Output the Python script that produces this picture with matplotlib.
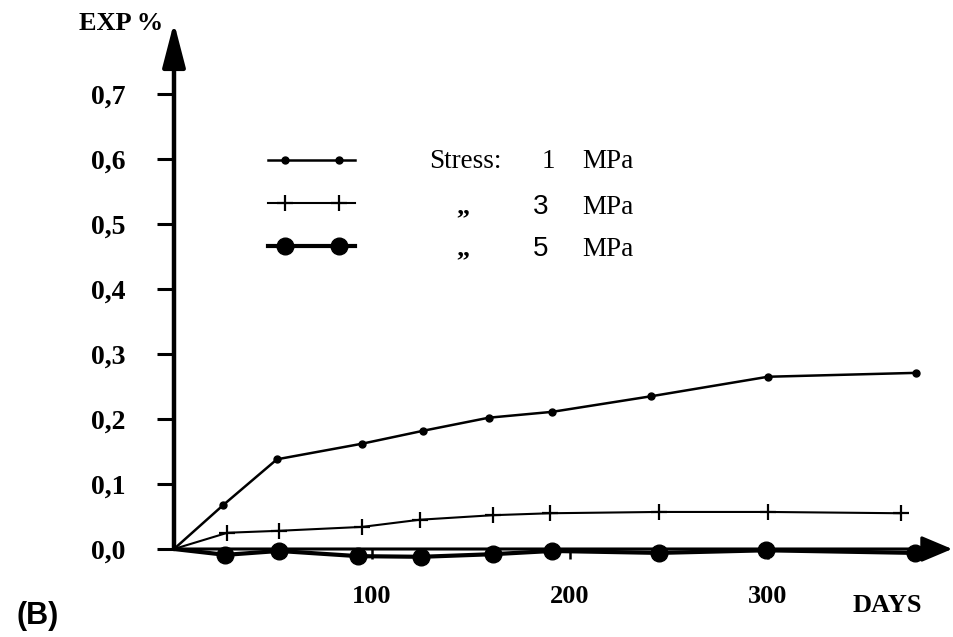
import matplotlib
matplotlib.use("Agg")
import matplotlib.pyplot as plt
from matplotlib.lines import Line2D
from matplotlib.legend_handler import HandlerLine2D

# data (days, expansion %)
days_1mpa = [0, 25, 52, 95, 126, 159, 191, 241, 300, 375]
exp_1mpa = [0, 0.068, 0.138, 0.162, 0.182, 0.202, 0.211, 0.235, 0.265, 0.271]

days_3mpa = [0, 27, 53, 95, 124, 161, 190, 245, 300, 367]
exp_3mpa = [0, 0.025, 0.028, 0.034, 0.045, 0.052, 0.055, 0.057, 0.057, 0.055]

days_5mpa = [0, 26, 53, 93, 125, 161, 191, 245, 299, 374]
exp_5mpa = [0, -0.009, -0.003, -0.011, -0.012, -0.008, -0.003, -0.006, -0.002, -0.006]

yticks = [0.0, 0.1, 0.2, 0.3, 0.4, 0.5, 0.6, 0.7]
ytick_labels = ['0,0', '0,1', '0,2', '0,3', '0,4', '0,5', '0,6', '0,7']
xticks = [100, 200, 300]
xtick_labels = ['100', '200', '300']

W, H = 954, 637
serif = 'Liberation Serif'

fig = plt.figure(figsize=(W / 100, H / 100), dpi=100)
ax = fig.add_axes([0, 0, 1, 1])
# origin at pixel (174, 549); 1.98 px per day, 650 px per 1 %
ax.set_xlim(-174 / 1.98, (W - 174) / 1.98)
ax.set_ylim(-(H - 549) / 650, 549 / 650)

for s in ['top', 'right']:
    ax.spines[s].set_visible(False)
for s in ['left', 'bottom']:
    ax.spines[s].set_position(('data', 0))
    ax.spines[s].set_color('none')

# axes drawn as arrows
ax.annotate('', xy=(0, 0.81), xytext=(0, 0), annotation_clip=False,
            arrowprops=dict(arrowstyle='-|>,head_length=2.7,head_width=0.7',
                            mutation_scale=10, lw=3.2, color='black',
                            shrinkA=0, shrinkB=0))
ax.annotate('', xy=(393, 0), xytext=(0, 0), annotation_clip=False,
            arrowprops=dict(arrowstyle='-|>,head_length=1.9,head_width=0.8',
                            mutation_scale=10, lw=2.2, color='black',
                            shrinkA=0, shrinkB=0))

ax.set_yticks(yticks)
ax.set_yticklabels(ytick_labels, fontfamily=serif, fontweight='bold', fontsize=20)
ax.set_xticks(xticks)
ax.set_xticklabels(xtick_labels, fontfamily=serif, fontweight='bold', fontsize=19)
ax.tick_params(axis='y', direction='out', length=12, width=2.2, pad=23)
ax.tick_params(axis='x', direction='out', length=7, width=1.8, pad=19)

# series
l1, = ax.plot(days_1mpa, exp_1mpa, color='black', lw=1.8, marker='o', ms=5,
              markevery=range(1, len(days_1mpa)))
l3, = ax.plot(days_3mpa, exp_3mpa, color='black', lw=1.5, marker='+', ms=12, mew=1.6,
              markevery=range(1, len(days_3mpa)))
l5, = ax.plot(days_5mpa, exp_5mpa, color='black', lw=3.0, marker='o', ms=12,
              markevery=range(1, len(days_5mpa)))
for ln in (l1, l3, l5):
    ln.set_clip_on(False)

# legend: full-length line plus two inset markers per entry, text placed separately
fs_leg = 14
handles = []
hmap = {}
for lw, mk, ms, mew in [(1.8, 'o', 5, 1), (1.5, '+', 12, 1.6), (3.0, 'o', 12, 1)]:
    line = Line2D([], [], color='black', lw=lw)
    marks = Line2D([], [], color='black', ls='none', marker=mk, ms=ms, mew=mew)
    hmap[line] = HandlerLine2D(numpoints=1)
    hmap[marks] = HandlerLine2D(numpoints=2, marker_pad=0.85)
    handles.append((line, marks))
ax.legend(handles, ['', '', ''], loc='upper left',
          bbox_to_anchor=(268 / W, 1 - 152 / H), bbox_transform=fig.transFigure,
          frameon=False, fontsize=fs_leg, borderpad=0, borderaxespad=0,
          handlelength=4.48, labelspacing=1.24, handletextpad=0,
          handler_map=hmap)

rows = [162, 207, 249]
fig.text(429 / W, 1 - rows[0] / H, 'Stress:', fontfamily=serif, fontsize=19.5, va='center')
fig.text(548 / W, 1 - rows[0] / H, '1', fontfamily=serif, fontsize=19.5, va='center', ha='center')
fig.text(463 / W, 1 - rows[1] / H, '\u201e', fontfamily=serif, fontweight='bold', fontsize=19,
         va='center', ha='center')
fig.text(463 / W, 1 - rows[2] / H, '\u201e', fontfamily=serif, fontweight='bold', fontsize=19,
         va='center', ha='center')
fig.text(541 / W, 1 - rows[1] / H, '3', fontfamily='Liberation Sans', fontsize=20, va='center', ha='center')
fig.text(541 / W, 1 - rows[2] / H, '5', fontfamily='Liberation Sans', fontsize=20, va='center', ha='center')
for r in rows:
    fig.text(582 / W, 1 - r / H, 'MPa', fontfamily=serif, fontsize=19.5, va='center')

fig.text(121 / W, 1 - 24 / H, 'EXP %', fontfamily=serif, fontweight='bold', fontsize=19,
         ha='center', va='center')
fig.text(887 / W, 1 - 605 / H, 'DAYS', fontfamily=serif, fontweight='bold', fontsize=19,
         ha='center', va='center')
fig.text(38 / W, 1 - 616 / H, '(B)', fontfamily='Liberation Sans', fontweight='bold',
         fontsize=22, ha='center', va='center')

fig.savefig('out.png', dpi=100)
